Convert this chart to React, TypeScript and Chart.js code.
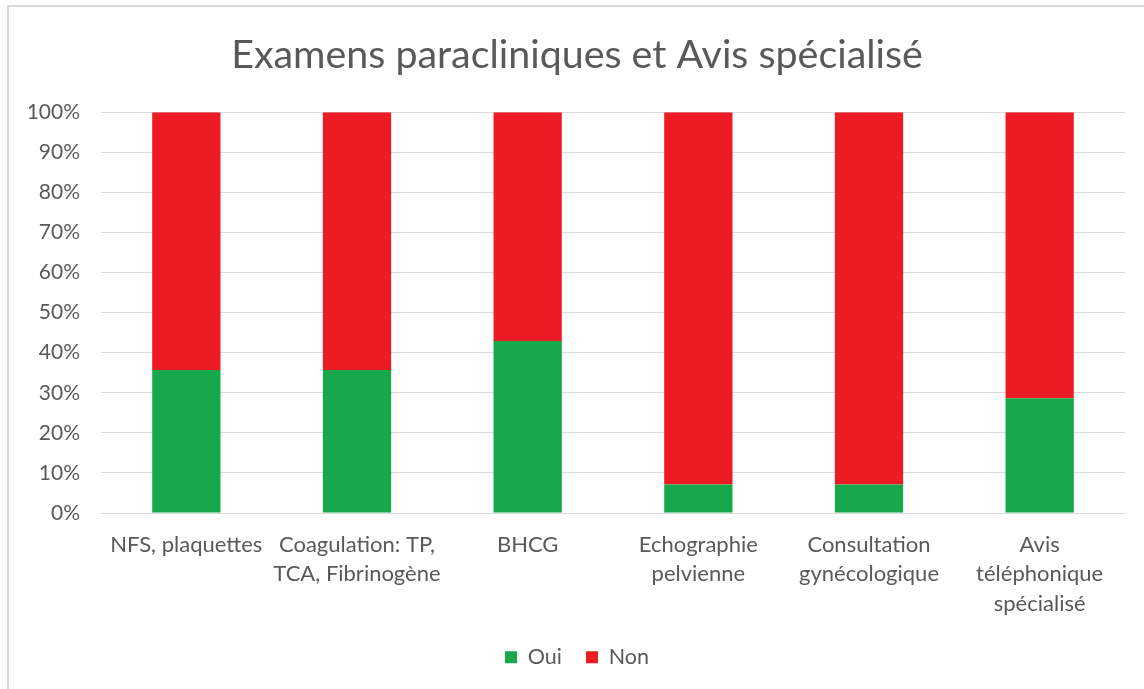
import React, { useEffect, useRef } from "react";
import { Chart, registerables } from "chart.js";

Chart.register(...registerables);

const categories: string[][] = [
  ["NFS, plaquettes"],
  ["Coagulation: TP,", "TCA, Fibrinogène"],
  ["BHCG"],
  ["Echographie", "pelvienne"],
  ["Consultation", "gynécologique"],
  ["Avis", "téléphonique", "spécialisé"],
];
const ouiValues = [35.7, 35.7, 42.9, 7.1, 7.1, 28.6];
const nonValues = [64.3, 64.3, 57.1, 92.9, 92.9, 71.4];
const yTicks = [0, 10, 20, 30, 40, 50, 60, 70, 80, 90, 100];

const TEXT = "#595959";
const FONT = "Lato, 'Open Sans', sans-serif";

export default function App() {
  const ref = useRef<HTMLCanvasElement | null>(null);

  useEffect(() => {
    if (!ref.current) return;
    const chart = new Chart(ref.current, {
      type: "bar",
      data: {
        labels: categories,
        datasets: [
          {
            label: "Oui",
            data: ouiValues,
            backgroundColor: "#16a84b",
            barPercentage: 0.4,
            categoryPercentage: 1,
          },
          {
            label: "Non",
            data: nonValues,
            backgroundColor: "#ed1c24",
            barPercentage: 0.4,
            categoryPercentage: 1,
          },
        ],
      },
      options: {
        animation: false,
        responsive: true,
        maintainAspectRatio: false,
        layout: { padding: { left: 29, right: 19, top: 31.6, bottom: 11 } },
        plugins: {
          tooltip: { enabled: false },
          title: {
            display: true,
            text: "Examens paracliniques et Avis spécialisé",
            color: TEXT,
            font: { family: FONT, size: 39.4, weight: "normal", lineHeight: 1.2 },
            padding: { top: 0, bottom: 33.3 },
          },
          legend: {
            position: "bottom",
            labels: {
              color: TEXT,
              font: { family: FONT, size: 21.5 },
              boxWidth: 12,
              boxHeight: 12,
              padding: 24,
            },
          },
        },
        scales: {
          x: {
            stacked: true,
            grid: { display: false, drawTicks: false },
            border: { display: false },
            ticks: {
              color: TEXT,
              font: { family: FONT, size: 22, lineHeight: 29.5 / 22 },
              padding: 17,
              maxRotation: 0,
              autoSkip: false,
            },
            afterFit: (scale: any) => {
              scale.height = 109.5;
            },
          },
          y: {
            stacked: true,
            min: 0,
            max: 100,
            afterBuildTicks: (scale: any) => {
              scale.ticks = yTicks.map((v) => ({ value: v }));
            },
            grid: { color: "#d9d9d9", lineWidth: 1, drawTicks: false },
            border: { display: false },
            ticks: {
              color: TEXT,
              font: { family: FONT, size: 21 },
              padding: 21,
              callback: (v: any) => v + "%",
            },
            afterFit: (scale: any) => {
              scale.width = 72;
            },
          },
        },
      },
    });
    return () => chart.destroy();
  }, []);

  return (
    <div style={{ position: "absolute", left: 0, top: 0, width: 1144, height: 689, background: "#fff" }}>
      <canvas ref={ref} />
      <div
        style={{
          position: "absolute",
          left: 7,
          top: 5,
          right: -4,
          bottom: -4,
          borderLeft: "2px solid #d9d9d9",
          borderTop: "2px solid #d9d9d9",
          pointerEvents: "none",
        }}
      />
    </div>
  );
}
